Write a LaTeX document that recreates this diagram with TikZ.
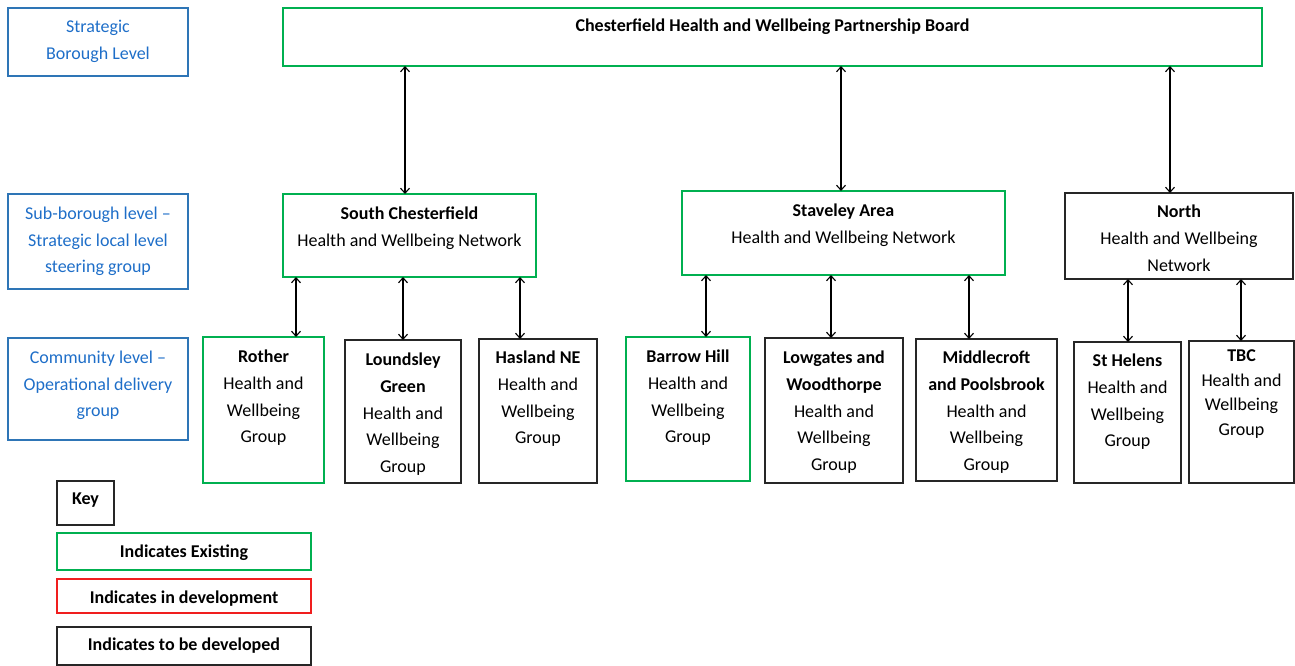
\documentclass[tikz,border=0pt]{standalone}
\usepackage{fontspec}
\setmainfont{Carlito}
\usetikzlibrary{arrows.meta}
\definecolor{lvlblue}{RGB}{46,117,182}
\definecolor{lvltext}{RGB}{30,110,200}
\definecolor{exgreen}{RGB}{0,176,80}
\definecolor{devred}{RGB}{240,30,30}
\newcommand{\bx}[6]{\node[box,#6,minimum width={(#4)-(#2)},minimum height={(#5)-(#3)},anchor=north west] (#1) at (#2,#3) {};}
\begin{document}
\begin{tikzpicture}[x=1pt,y=-1pt,
  box/.style={draw,line width=1.4pt,inner sep=0pt,outer sep=0pt,rectangle},
  lvl/.style={draw=lvlblue},
  ex/.style={draw=exgreen},
  dev/.style={draw=devred},
  tbd/.style={draw=black!85},
  txt/.style={inner sep=0pt,outer sep=0pt,anchor=north,align=center,font=\fontsize{18}{26.7}\selectfont},
  btxt/.style={txt,text=lvltext},
  dbl/.style={line width=1.1pt,{Straight Barb[length=5pt,width=9pt]}-{Straight Barb[length=5pt,width=9pt]}}]
\useasboundingbox (0,0) rectangle (1295,666);
% level label boxes
\bx{lbl1}{8}{8}{188}{76}{lvl}
\bx{lbl2}{8}{194}{188}{289}{lvl}
\bx{lbl3}{8}{338}{188}{440}{lvl}
\node[btxt] (lbl1t) at (98,20) {Strategic\\Borough Level};
\node[btxt] (lbl2t) at (98,207) {Sub-borough level –\\Strategic local level\\steering group};
\node[btxt] (lbl3t) at (98,351) {Community level –\\Operational delivery\\group};
% board
\bx{board}{283}{8}{1262}{66}{ex}
\node[txt] (boardt) at (772.5,19) {\textbf{Chesterfield Health and Wellbeing Partnership Board}};
% networks
\bx{south}{283}{194}{536}{277}{ex}
\node[txt] (southt) at (409.5,207) {\textbf{South Chesterfield}\\Health and Wellbeing Network};
\bx{stav}{682}{191}{1005}{275}{ex}
\node[txt] (stavt) at (843.5,204) {\textbf{Staveley Area}\\Health and Wellbeing Network};
\bx{north}{1065}{193}{1293}{279}{tbd}
\node[txt] (northt) at (1179,205) {\textbf{North}\\Health and Wellbeing\\Network};
% groups
\bx{rother}{203}{337}{324}{483}{ex}
\node[txt] (rothert) at (263.5,350) {\textbf{Rother}\\Health and\\Wellbeing\\Group};
\bx{lound}{345}{340}{461}{483}{tbd}
\node[txt] (loundt) at (403,353) {\textbf{Loundsley}\\\textbf{Green}\\Health and\\Wellbeing\\Group};
\bx{hasl}{479}{339}{597}{483}{tbd}
\node[txt] (haslt) at (538,351) {\textbf{Hasland NE}\\Health and\\Wellbeing\\Group};
\bx{barrow}{626}{337}{750}{481}{ex}
\node[txt] (barrowt) at (688,350) {\textbf{Barrow Hill}\\Health and\\Wellbeing\\Group};
\bx{lowg}{765}{338}{903}{483}{tbd}
\node[txt] (lowgt) at (834,351) {\textbf{Lowgates and}\\\textbf{Woodthorpe}\\Health and\\Wellbeing\\Group};
\bx{midd}{916}{339}{1057}{481}{tbd}
\node[txt] (middt) at (986.5,351) {\textbf{Middlecroft}\\\textbf{and Poolsbrook}\\Health and\\Wellbeing\\Group};
\bx{sth}{1074}{342}{1181}{483}{tbd}
\node[txt] (stht) at (1127.5,354) {\textbf{St Helens}\\Health and\\Wellbeing\\Group};
\bx{tbc}{1189}{341}{1294}{483}{tbd}
\node[txt,font=\fontsize{18}{24.5}\selectfont] (tbct) at (1241.5,350) {\textbf{TBC}\\Health and\\Wellbeing\\Group};
% key
\bx{key}{57}{481}{114}{525}{tbd}
\node[txt] (keyt) at (85.5,493) {\textbf{Key}};
\bx{kex}{57}{533}{311}{570}{ex}
\node[txt] (kext) at (184,545) {\textbf{Indicates Existing}};
\bx{kdev}{57}{579}{311}{613}{dev}
\node[txt] (kdevt) at (184,591) {\textbf{Indicates in development}};
\bx{ktbd}{57}{627}{311}{665}{tbd}
\node[txt] (ktbdt) at (184,638) {\textbf{Indicates to be developed}};
% connector x positions
\coordinate (c1) at (405,0);
\coordinate (c2) at (841,0);
\coordinate (c3) at (1170,0);
\coordinate (c4) at (296,0);
\coordinate (c5) at (403,0);
\coordinate (c6) at (520,0);
\coordinate (c7) at (706,0);
\coordinate (c8) at (831,0);
\coordinate (c9) at (969,0);
\coordinate (c10) at (1128,0);
\coordinate (c11) at (1241,0);
\draw[dbl] (board.south -| c1) -- (south.north -| c1);
\draw[dbl] (board.south -| c2) -- (stav.north -| c2);
\draw[dbl] (board.south -| c3) -- (north.north -| c3);
\draw[dbl] (south.south -| c4) -- (rother.north -| c4);
\draw[dbl] (south.south -| c5) -- (lound.north -| c5);
\draw[dbl] (south.south -| c6) -- (hasl.north -| c6);
\draw[dbl] (stav.south -| c7) -- (barrow.north -| c7);
\draw[dbl] (stav.south -| c8) -- (lowg.north -| c8);
\draw[dbl] (stav.south -| c9) -- (midd.north -| c9);
\draw[dbl] (north.south -| c10) -- (sth.north -| c10);
\draw[dbl] (north.south -| c11) -- (tbc.north -| c11);
\end{tikzpicture}
\end{document}
